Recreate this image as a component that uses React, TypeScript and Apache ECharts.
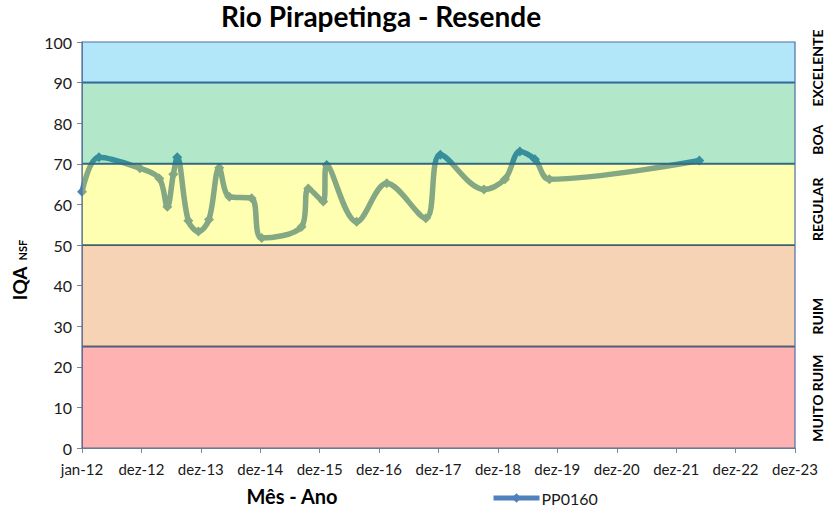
import React, { useEffect, useRef } from "react";
import * as echarts from "echarts";

const sampleDates = [
  "2012-01-01", "2012-04-14", "2012-12-22", "2013-04-20", "2013-06-08", "2013-07-15",
  "2013-08-08", "2013-10-15", "2013-12-16", "2014-02-19", "2014-04-23", "2014-06-24",
  "2014-11-08", "2015-01-09", "2015-09-11", "2015-10-22", "2016-01-22", "2016-02-12",
  "2016-08-14", "2017-02-15", "2017-10-13", "2018-01-10", "2018-10-05", "2019-02-11",
  "2019-05-14", "2019-08-14", "2019-11-11", "2022-05-20",
];
const iqaValues = [
  63.1, 71.6, 68.9, 66.4, 59.4, 67.4,
  71.6, 56.0, 53.3, 56.3, 69.0, 61.9,
  61.5, 51.7, 54.5, 63.9, 60.7, 69.7,
  55.7, 65.2, 56.6, 72.2, 63.7, 66.2,
  73.0, 71.1, 66.2, 70.8,
];
const xTickLabels = [
  "jan-12", "dez-12", "dez-13", "dez-14", "dez-15", "dez-16", "dez-17",
  "dez-18", "dez-19", "dez-20", "dez-21", "dez-22", "dez-23",
];
const yTicks = [0, 10, 20, 30, 40, 50, 60, 70, 80, 90, 100];
const bandRanges = [[0, 25], [25, 50], [50, 70], [70, 90], [90, 100]];
const bandNames = ["MUITO RUIM", "RUIM", "REGULAR", "BOA", "EXCELENTE"];
const bandLabelCenters = [12.3, 32.5, 58.8, 75.9, 93.6];
const bandColors = [
  "rgba(255,0,0,0.3)",
  "rgba(228,108,10,0.3)",
  "rgba(255,255,0,0.3)",
  "rgba(0,176,80,0.3)",
  "rgba(0,176,240,0.3)",
];

const DAY_MS = 86400000;
const START = Date.UTC(2012, 0, 1);
const toDays = (s: string) => {
  const [y, m, d] = s.split("-").map(Number);
  return (Date.UTC(y, m - 1, d) - START) / DAY_MS;
};
const X_STEP = 365;
const X_MAX = X_STEP * (xTickLabels.length - 1);

const FONT = "Lato, 'Open Sans', sans-serif";

export default function App() {
  const ref = useRef<HTMLDivElement>(null);
  useEffect(() => {
    if (!ref.current) return;
    const chart = echarts.init(ref.current, null, { renderer: "svg" });
    const lineData = sampleDates.map((d, i) => [toDays(d), iqaValues[i]]);
    const gridTop = 42, gridBottom = 62, H = 510;
    const plotH = H - gridTop - gridBottom;
    const yPix = (v: number) => gridTop + plotH * (1 - v / 100);

    chart.setOption({
      animation: false,
      grid: { left: 82, right: 29, top: gridTop, bottom: gridBottom },
      xAxis: {
        type: "value",
        min: 0,
        max: X_MAX,
        interval: X_STEP,
        axisLine: { show: true, lineStyle: { color: "#868686", width: 1 } },
        axisTick: { show: true, length: 5, lineStyle: { color: "#868686" } },
        splitLine: { show: false },
        axisLabel: {
          formatter: (v: number) => xTickLabels[Math.round(v / X_STEP)] ?? "",
          fontSize: 15,
          fontFamily: FONT,
          color: "#1a1a1a",
          margin: 13,
          showMaxLabel: true,
          showMinLabel: true,
        },
      },
      yAxis: {
        type: "value",
        min: yTicks[0],
        max: yTicks[yTicks.length - 1],
        interval: 10,
        axisLine: { show: true, lineStyle: { color: "#868686", width: 1 } },
        axisTick: { show: true, length: 5, lineStyle: { color: "#868686" } },
        splitLine: { show: false },
        axisLabel: { fontSize: 16, fontFamily: FONT, color: "#1a1a1a", margin: 10 },
      },
      legend: {
        left: 486,
        top: 485,
        itemWidth: 46,
        itemHeight: 12,
        itemGap: 4,
        lineStyle: { width: 5 },
        textStyle: { fontSize: 16, fontFamily: FONT, color: "#1a1a1a", padding: [0, 0, 0, -3] },
        data: ["PP0160"],
      },
      series: [
        {
          name: "PP0160",
          type: "line",
          data: lineData,
          smooth: 0.35,
          z: 2,
          lineStyle: { color: "#4F81BD", width: 5.5 },
          itemStyle: { color: "#4F81BD" },
          symbol: "diamond",
          symbolSize: 10,
          clip: false,
        },
        {
          name: "bands",
          type: "custom",
          z: 5,
          silent: true,
          clip: false,
          data: bandRanges.map((r, i) => [r[0], r[1], i]),
          encode: { y: [0, 1] },
          renderItem: (params: any, api: any) => {
            const lo = api.value(0);
            const hi = api.value(1);
            const idx = api.value(2);
            const p1 = api.coord([0, hi]);
            const p2 = api.coord([X_MAX, lo]);
            const children: any[] = [
              {
                type: "rect",
                shape: { x: p1[0], y: p1[1], width: p2[0] - p1[0], height: p2[1] - p1[1] },
                style: { fill: bandColors[idx] },
              },
            ];
            if (hi < 100) {
              children.push({
                type: "line",
                shape: { x1: p1[0], y1: p1[1], x2: p2[0], y2: p1[1] },
                style: { stroke: "#385D8A", lineWidth: 2 },
              });
            } else {
              children.push({
                type: "rect",
                shape: { x: p1[0], y: p1[1], width: p2[0] - p1[0], height: api.coord([0, 0])[1] - p1[1] },
                style: { fill: "none", stroke: "#4F6FA0", lineWidth: 1.2 },
              });
            }
            return { type: "group", children };
          },
        },
      ],
      graphic: [
        {
          type: "text",
          x: 381,
          y: 2,
          style: {
            text: "Rio Pirapetinga - Resende",
            font: `bold 28px ${FONT}`,
            fill: "#000",
            textAlign: "center",
          },
        },
        {
          type: "text",
          x: 292,
          y: 496,
          style: {
            text: "Mês - Ano",
            font: `bold 20px ${FONT}`,
            fill: "#000",
            textAlign: "center",
            textVerticalAlign: "middle",
          },
        },
        {
          type: "text",
          x: 19,
          y: 270,
          rotation: Math.PI / 2,
          style: {
            text: "{a|IQA}{b|NSF}",
            textAlign: "center",
            textVerticalAlign: "middle",
            rich: {
              a: { font: `bold 19px ${FONT}`, fill: "#000" },
              b: { font: `bold 11px ${FONT}`, fill: "#000", padding: [7, 0, 0, 6] },
            },
          },
        },
        ...bandNames.map((name, i) => ({
          type: "text",
          x: 817,
          y: yPix(bandLabelCenters[i]),
          rotation: Math.PI / 2,
          style: {
            text: name,
            font: `bold 14px ${FONT}`,
            fill: "#000",
            textAlign: "center",
            textVerticalAlign: "middle",
          },
        })),
      ],
    });
    return () => chart.dispose();
  }, []);
  return (
    <div
      ref={ref}
      style={{ position: "absolute", left: 0, top: 0, width: 824, height: 510, background: "#fff" }}
    />
  );
}
